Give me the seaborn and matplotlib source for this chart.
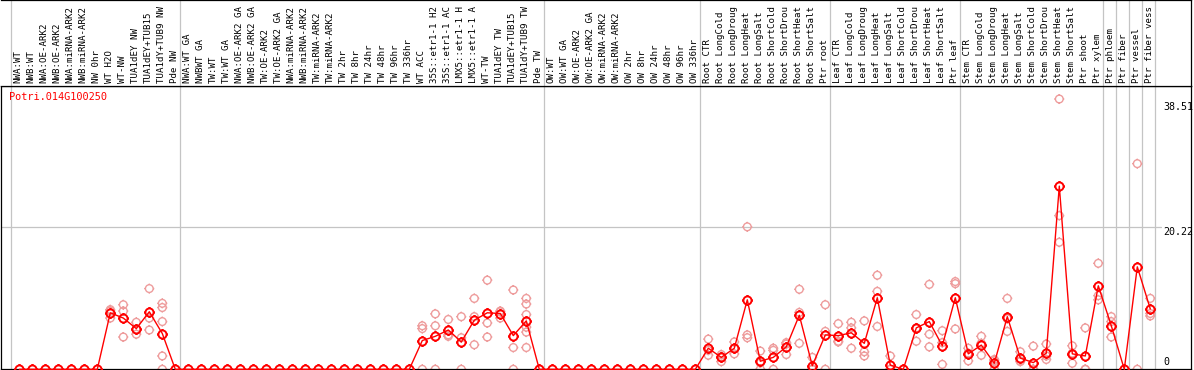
import numpy as np
import pandas as pd
import matplotlib
matplotlib.use("Agg")
import matplotlib.pyplot as plt
import seaborn as sns
from matplotlib.path import Path

# sample names (as shown, truncated to 14 chars)
sample_labels = [
    "NWA:WT", "NWB:WT", "NWA:OE-ARK2", "NWB:OE-ARK2", "NWA:miRNA-ARK2", "NWB:miRNA-ARK2",
    "NW 0hr", "WT H2O", "WT-NW", "TUA1dEY NW", "TUA1dEY+TUB15", "TUA1dY+TUB9 NW", "Pde NW",
    "NWA:WT GA", "NWBWT GA", "TW:WT", "TW:WT GA", "NWA:OE-ARK2 GA", "NWB:OE-ARK2 GA",
    "TW:OE-ARK2", "TW:OE-ARK2 GA", "NWA:miRNA-ARK2", "NWB:miRNA-ARK2", "TW:miRNA-ARK2",
    "TW:miRNA-ARK2", "TW 2hr", "TW 8hr", "TW 24hr", "TW 48hr", "TW 96hr", "TW 336hr",
    "WT ACC", "35S::etr1-1 H2", "35S::etr1-1 AC", "LMX5::etr1-1 H", "LMX5::etr1-1 A",
    "WT-TW", "TUA1dEY TW", "TUA1dEY+TUB15", "TUA1dY+TUB9 TW", "Pde TW",
    "OW:WT", "OW:WT GA", "OW:OE-ARK2", "OW:OE-ARK2 GA", "OW:miRNA-ARK2", "OW:miRNA-ARK2",
    "OW 2hr", "OW 8hr", "OW 24hr", "OW 48hr", "OW 96hr", "OW 336hr",
    "Root CTR", "Root LongCold", "Root LongDroug", "Root LongHeat", "Root LongSalt",
    "Root ShortCold", "Root ShortDrou", "Root ShortHeat", "Root ShortSalt", "Ptr root",
    "Leaf CTR", "Leaf LongCold", "Leaf LongDroug", "Leaf LongHeat", "Leaf LongSalt",
    "Leaf ShortCold", "Leaf ShortDrou", "Leaf ShortHeat", "Leaf ShortSalt", "Ptr leaf",
    "Stem CTR", "Stem LongCold", "Stem LongDroug", "Stem LongHeat", "Stem LongSalt",
    "Stem ShortCold", "Stem ShortDrou", "Stem ShortHeat", "Stem ShortSalt", "Ptr shoot",
    "Ptr xylem", "Ptr phloem", "Ptr fiber", "Ptr vessel", "Ptr fiber vess",
]
group_sizes = [13, 28, 12, 10, 10, 11, 1, 1, 1, 1]

mean_values = [
    0, 0, 0, 0, 0, 0, 0, 8.05, 7.3, 5.8, 8.2, 5.1, 0,
    0, 0, 0, 0, 0, 0, 0, 0, 0, 0, 0, 0, 0, 0, 0, 0, 0, 0,
    4.1, 4.7, 5.6, 3.9, 7.0, 8.05, 7.95, 4.8, 6.9, 0,
    0, 0, 0, 0, 0, 0, 0, 0, 0, 0, 0, 0,
    3.0, 1.7, 3.0, 9.9, 1.15, 1.7, 3.2, 7.7, 0.5, 4.9,
    4.8, 5.2, 3.7, 10.2, 0.6, 0, 5.9, 6.8, 3.35, 10.2,
    2.2, 3.45, 0.86, 7.5, 1.6, 0.95, 2.3, 26.1, 2.2, 1.9, 11.9,
    6.2, 0, 14.6, 8.6,
]

# replicate values per sample (same order as sample_labels)
replicates = [
    [], [], [], [], [], [], [], [8.5, 8.3, 7.3], [9.2, 8.3, 4.6], [6.7, 5.7, 5.0],
    [11.5, 7.3, 5.6], [9.4, 8.8, 6.8, 1.9, 0], [],
    [], [], [], [], [], [], [], [], [], [], [], [], [], [], [], [], [], [],
    [6.2, 5.8, 0], [7.9, 6.2, 0], [7.1, 4.9, 4.7], [7.5, 4.5, 0], [10.1, 7.5, 3.5],
    [12.7, 6.6, 4.6], [8.3, 8.2, 7.3], [11.3, 3.1, 0], [10.1, 9.3, 7.8, 6.0, 5.3, 3.1], [],
    [], [], [], [], [], [], [], [], [], [], [], [],
    [4.3, 2.7, 2.0], [2.1, 1.8, 1.1], [3.9, 3.0, 2.2], [20.3, 4.9, 4.5], [2.6, 0.9, 0],
    [3.0, 2.7, 0], [3.8, 3.6, 2.1], [11.4, 8.1, 3.7], [1.7, 0, 0], [9.2, 5.4, 0],
    [6.5, 4.0, 3.9], [6.7, 5.9, 3.0], [6.9, 2.5, 1.9], [13.4, 11.1, 6.1], [1.9, 0, 0],
    [], [7.8, 5.9, 4.0], [12.1, 5.0, 3.2], [5.5, 3.8, 0.7], [12.5, 12.2, 5.75],
    [3.0, 2.3, 1.2], [4.7, 3.7, 2.0], [1.4, 1.2, 0], [10.1, 7.2, 5.4], [2.5, 1.2, 1.1],
    [3.3, 0, 0], [3.6, 1.9, 1.4], [38.51, 21.9, 18.1], [3.35, 2.3, 0.86], [5.9, 0, 0],
    [15.1, 10.5, 9.9], [7.5, 6.8, 4.6], [], [29.3, 0], [10.1, 7.95, 7.6],
]

gene_id = "Potri.014G100250"
y_max = 38.51

means_df = pd.DataFrame({"idx": np.arange(len(mean_values)), "value": mean_values})
reps_df = pd.DataFrame(
    [(i, v) for i, vals in enumerate(replicates) for v in vals], columns=["idx", "value"]
)

sns.set_theme(style="white")
plt.rcParams["font.family"] = ["DejaVu Sans Mono", "DejaVu Sans"]

W, H = 1194, 370
fig = plt.figure(figsize=(W / 100, H / 100), dpi=100)


def px_axes(x0, y0, x1, y1):
    return fig.add_axes([x0 / W, 1 - y1 / H, (x1 - x0) / W, (y1 - y0) / H])


ax = px_axes(1, 85.5, 1191, 369.3)
head = px_axes(1, 0, 1191, 85.5)

# column i sits at pixel 19.3 + 13*i
x_lo, x_hi = (1 - 19.3) / 13, (1191 - 19.3) / 13

# ring marker with small ticks
circle = Path.unit_circle()
ticks = [Path([(0, 1), (0, 1.3)]), Path([(0, -1), (0, -1.3)]),
         Path([(1, 0), (1.3, 0)]), Path([(-1, 0), (-1.3, 0)])]
ring = Path.make_compound_path(circle, *ticks)

pink = "#ee9c9c"
sns.scatterplot(data=reps_df, x="idx", y="value", ax=ax, marker=ring, s=52,
                color=pink, facecolor="none", edgecolor=pink, linewidth=1.0,
                clip_on=False, zorder=2)
sns.lineplot(data=means_df, x="idx", y="value", ax=ax, color="red", lw=1,
             marker=ring, markersize=7.6, markerfacecolor="none",
             markeredgecolor="red", markeredgewidth=1.4, clip_on=False, zorder=3)

ax.set_xlim(x_lo, x_hi)
ax.set_ylim(0, y_max * 1.05)
ax.set(xlabel="", ylabel="", xticks=[], yticks=[])

# group separators
bounds = np.cumsum([0] + group_sizes) - 0.662
for b in bounds:
    ax.axvline(b, color="#c4c4c4", lw=0.9, zorder=0)
    head.axvline(b, color="#c4c4c4", lw=0.9, zorder=0)

ax.axhline(y_max * 1.05 / 2, xmin=0, xmax=(1161 - 1) / 1190, color="#c4c4c4", lw=0.9, zorder=0)

# value labels on the right
x_lab = (1163 - 19.3) / 13
for v, va, dy in [(y_max, "top", -2), (y_max * 1.05 / 2, "top", 0), (0, "bottom", 1.5)]:
    txt = "0" if v == 0 else f"{v:.2f}"
    ax.annotate(txt, xy=(x_lab, v), xytext=(0, dy), textcoords="offset points",
                ha="left", va=va, fontsize=7.2, color="black")

for s in ax.spines.values():
    s.set_visible(True)
    s.set_color("black")
    s.set_linewidth(0.9)

# header with sample names
head.set_xlim(x_lo, x_hi)
head.set_ylim(0, 1)
head.set_xticks([])
head.set_yticks([])
head.spines["left"].set_visible(False)
for side in ["top", "bottom", "right"]:
    head.spines[side].set_visible(True)
    head.spines[side].set_color("black")
    head.spines[side].set_linewidth(0.9)
for i, lab in enumerate(sample_labels):
    head.text(i - 0.08, 0.03, lab, rotation=90, ha="center", va="bottom",
              fontsize=6.6, color="black")

fig.text(9.3 / W, 1 - 92 / H, gene_id, color="red", fontsize=7.4, ha="left", va="top")

fig.savefig("out.png", dpi=100)
